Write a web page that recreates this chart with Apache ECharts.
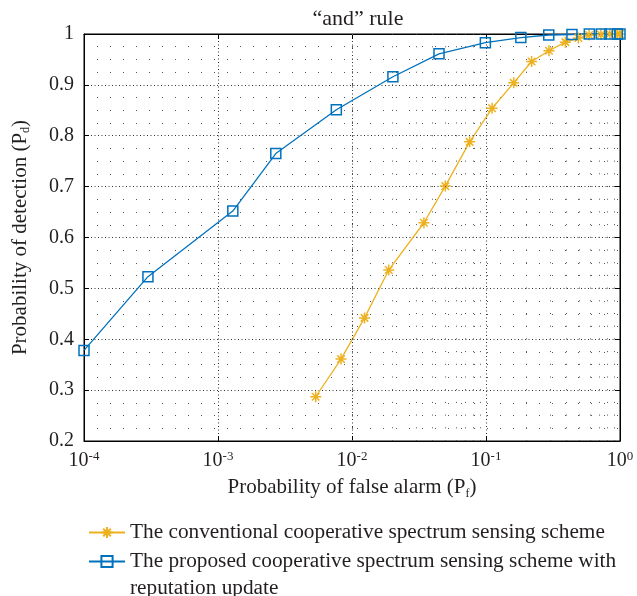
<!DOCTYPE html>
<html>
<head>
<meta charset="utf-8">
<script src="https://cdn.jsdelivr.net/npm/echarts@6/dist/echarts.min.js"></script>
<style>
  html, body { margin: 0; padding: 0; background: #fff; }
  #chart { width: 637px; height: 596px; }
</style>
</head>
<body>
<div id="chart"></div>
<script>
// values
const convName = 'The conventional cooperative spectrum sensing scheme'
const propName = 'The proposed cooperative spectrum sensing scheme with\nreputation update'

const pfConv = [0.00536, 0.00828, 0.0124, 0.0188, 0.0344, 0.0497, 0.0755, 0.111, 0.161, 0.219, 0.295, 0.391, 0.489, 0.588, 0.72, 0.84, 0.96, 1.0]
const pdConv = [0.287, 0.361, 0.442, 0.536, 0.629, 0.701, 0.788, 0.854, 0.904, 0.946, 0.967, 0.984, 0.992, 0.998, 0.999, 1.0, 1.0, 1.0]

const pfProp = [0.0001, 0.0003, 0.00129, 0.0027, 0.00764, 0.0202, 0.0446, 0.0989, 0.182, 0.294, 0.438, 0.59, 0.724, 0.84, 0.955, 1.0]
const pdProp = [0.378, 0.523, 0.652, 0.765, 0.851, 0.916, 0.961, 0.983, 0.993, 0.998, 0.999, 1.0, 1.0, 1.0, 1.0, 1.0]

// minor grid positions of the log axis (2..9 per decade)
const minorX = []
for (let e = -4; e < 0; e++) {
    for (let m = 2; m <= 9; m++) minorX.push(m * Math.pow(10, e))
}

const font = 'Liberation Serif'
const ink = '#231f20'

const chart = echarts.init(document.getElementById('chart'))

const pair = (xs, ys) => xs.map((x, i) => [x, ys[i]])

const option = {
    animation: false,
    title: {
        text: '“and” rule',
        left: 353, top: 3, textAlign: 'center',
        textStyle: { fontFamily: font, fontSize: 22, fontWeight: 'normal', color: ink }
    },
    grid: {
        left: 84, right: 17, top: 34, bottom: 155,
        outerBoundsMode: 'none',
        show: true, borderColor: '#000', borderWidth: 1
    },
    xAxis: [
        {
            type: 'log', logBase: 10, min: 1e-4, max: 1,
            position: 'bottom',
            axisLine: { lineStyle: { color: '#000' } },
            axisTick: { inside: true, length: 5, lineStyle: { color: '#000' } },
            axisLabel: {
                margin: 9,
                formatter: v => '{b|10}{s|' + Math.round(Math.log10(v)) + '}',
                rich: {
                    b: { fontFamily: font, fontSize: 20, color: ink, lineHeight: 22 },
                    s: { fontFamily: font, fontSize: 13, color: ink, verticalAlign: 'top', lineHeight: 13 }
                }
            },
            splitLine: { show: true, lineStyle: { type: [1, 2.5], color: '#333' } },
            name: 'Probability of false alarm (P{sub|f})',
            nameLocation: 'middle', nameGap: 34,
            nameTextStyle: {
                fontFamily: font, fontSize: 21, color: ink, lineHeight: 24,
                rich: { sub: { fontFamily: font, fontSize: 12, color: ink, verticalAlign: 'bottom', lineHeight: 12 } }
            }
        },
        {
            type: 'log', logBase: 10, min: 1e-4, max: 1,
            position: 'top',
            axisLine: { lineStyle: { color: '#000' } },
            axisTick: { inside: true, length: 5, lineStyle: { color: '#000' } },
            axisLabel: { show: false },
            splitLine: { show: false }
        }
    ],
    yAxis: [
        {
            type: 'value', min: 0.2, max: 1, interval: 0.1,
            axisLine: { show: true, lineStyle: { color: '#000' } },
            axisTick: { inside: true, length: 5, lineStyle: { color: '#000' } },
            axisLabel: {
                margin: 10, fontFamily: font, fontSize: 20, color: ink,
                formatter: v => (v === 1 ? '1' : v.toFixed(1))
            },
            splitLine: { show: true, lineStyle: { type: [1, 2.5], color: '#333' } },
            minorTick: { show: false, splitNumber: 4 },
            minorSplitLine: { show: true, lineStyle: { type: [1, 12], color: '#555' } },
            name: 'Probability of detection (P{sub|d})',
            nameLocation: 'middle', nameGap: 52,
            nameTextStyle: {
                fontFamily: font, fontSize: 21, color: ink, lineHeight: 24,
                rich: { sub: { fontFamily: font, fontSize: 12, color: ink, verticalAlign: 'bottom', lineHeight: 12 } }
            }
        },
        {
            type: 'value', min: 0.2, max: 1, interval: 0.1,
            position: 'right',
            axisLine: { show: true, lineStyle: { color: '#000' } },
            axisTick: { inside: true, length: 5, lineStyle: { color: '#000' } },
            axisLabel: { show: false },
            splitLine: { show: false }
        }
    ],
    legend: [
        {
            data: [{ name: convName }],
            orient: 'vertical', left: 83, top: 514,
            itemWidth: 36, itemHeight: 14,
            textStyle: { fontFamily: font, fontSize: 21.3, color: ink, lineHeight: 27 }
        },
        {
            data: [{ name: propName }],
            orient: 'vertical', left: 83, top: 516,
            itemWidth: 36, itemHeight: 14,
            // leading blank line keeps the icon level with the first text line
            formatter: name => ' \n' + name,
            textStyle: { fontFamily: font, fontSize: 21.3, color: ink, lineHeight: 27 }
        }
    ],
    series: [
        {
            name: '',
            type: 'line',
            data: [],
            silent: true,
            markLine: {
                silent: true, symbol: 'none', label: { show: false },
                lineStyle: { type: [1, 11.7], color: '#555', width: 1 },
                data: minorX.map(v => ({ xAxis: v }))
            }
        },
        {
            name: convName,
            type: 'line',
            data: pair(pfConv, pdConv),
            symbol: 'path://M5,0L5,10M0,5L10,5M1.6,1.6L8.4,8.4M1.6,8.4L8.4,1.6',
            symbolSize: 11,
            lineStyle: { color: '#EDB120', width: 1.3 },
            itemStyle: { color: 'rgba(0,0,0,0)', borderColor: '#EDB120', borderWidth: 1.5 }
        },
        {
            name: propName,
            type: 'line',
            data: pair(pfProp, pdProp),
            symbol: 'rect',
            symbolSize: 10,
            lineStyle: { color: '#0072BD', width: 1.3 },
            itemStyle: { color: 'rgba(255,255,255,0)', borderColor: '#0072BD', borderWidth: 1.5 }
        }
    ]
}

chart.setOption(option)
window.addEventListener('resize', () => chart.resize())
</script>
</body>
</html>
